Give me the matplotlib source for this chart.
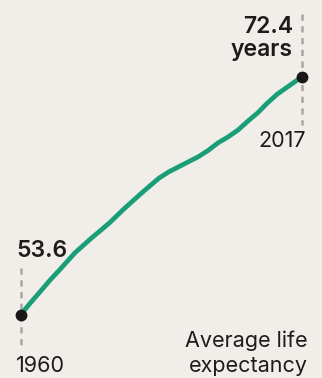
import matplotlib
matplotlib.use("Agg")
import matplotlib.pyplot as plt

years = [1960, 1962, 1964, 1966, 1968, 1971, 1974, 1978, 1981, 1985, 1988, 1990, 1992, 1994,
         1996, 1998, 2000, 2002, 2004, 2006, 2008, 2010, 2012, 2014, 2016, 2017]
life_exp = [53.6, 54.55, 55.45, 56.36, 57.2, 58.5, 59.55, 60.87, 62.0, 63.4, 64.4, 64.9, 65.3,
            65.7, 66.1, 66.6, 67.2, 67.66, 68.2, 68.9, 69.56, 70.35, 71.05, 71.6, 72.15, 72.4]
start_label = "53.6"
end_label = "72.4\nyears"
start_year_label = "1960"
end_year_label = "2017"
caption = "Average life\nexpectancy"

bg = "#f1eee9"
teal = "#1a9e78"
W, H = 322, 378
fig = plt.figure(figsize=(W / 100, H / 100), dpi=100)
fig.patch.set_facecolor(bg)
ax = fig.add_axes([0, 0, 1, 1])
ax.set_facecolor(bg)
ax.set_xlim(1955.85, 2021.03)
ax.set_ylim(48.62, 78.48)
ax.axis("off")

font = "Inter"

def px2y(py):
    return 53.6 + (315 - py) / 12.66

def px2x(px):
    return 1960 + (px - 20.5) / 4.94

# dashed guides
ax.plot([years[0], years[0]], [px2y(268), px2y(347)], color="#a8a6a3", lw=1.8,
        ls=(0, (2.5, 2.2)), zorder=1)
ax.plot([years[-1], years[-1]], [px2y(14), px2y(125)], color="#a8a6a3", lw=1.8,
        ls=(0, (2.5, 2.2)), zorder=1)

ax.plot(years, life_exp, color=teal, lw=3.4, solid_capstyle="round",
        solid_joinstyle="round", zorder=2)
ax.plot([years[0], years[-1]], [life_exp[0], life_exp[-1]], "o", color="#1a1517",
        ms=7.5, zorder=3)

ax.text(px2x(16), px2y(257), start_label, fontsize=16.5, fontweight=600,
        family=font, color="#1f1a1c", ha="left", va="baseline")
ax.text(px2x(293), px2y(56), end_label, fontsize=16.5, fontweight=600,
        family=font, color="#1f1a1c", ha="right", va="baseline", linespacing=1.05)
ax.text(px2x(306), px2y(147), end_year_label, fontsize=15.5, family=font,
        color="#1f1a1c", ha="right", va="baseline")
ax.text(px2x(16), px2y(372), start_year_label, fontsize=15.5, family=font,
        color="#1f1a1c", ha="left", va="baseline")
ax.text(px2x(308), px2y(372), caption, fontsize=15.5, family=font,
        color="#1f1a1c", ha="right", va="baseline", linespacing=1.3)

fig.savefig("out.png", dpi=100, facecolor=bg)
